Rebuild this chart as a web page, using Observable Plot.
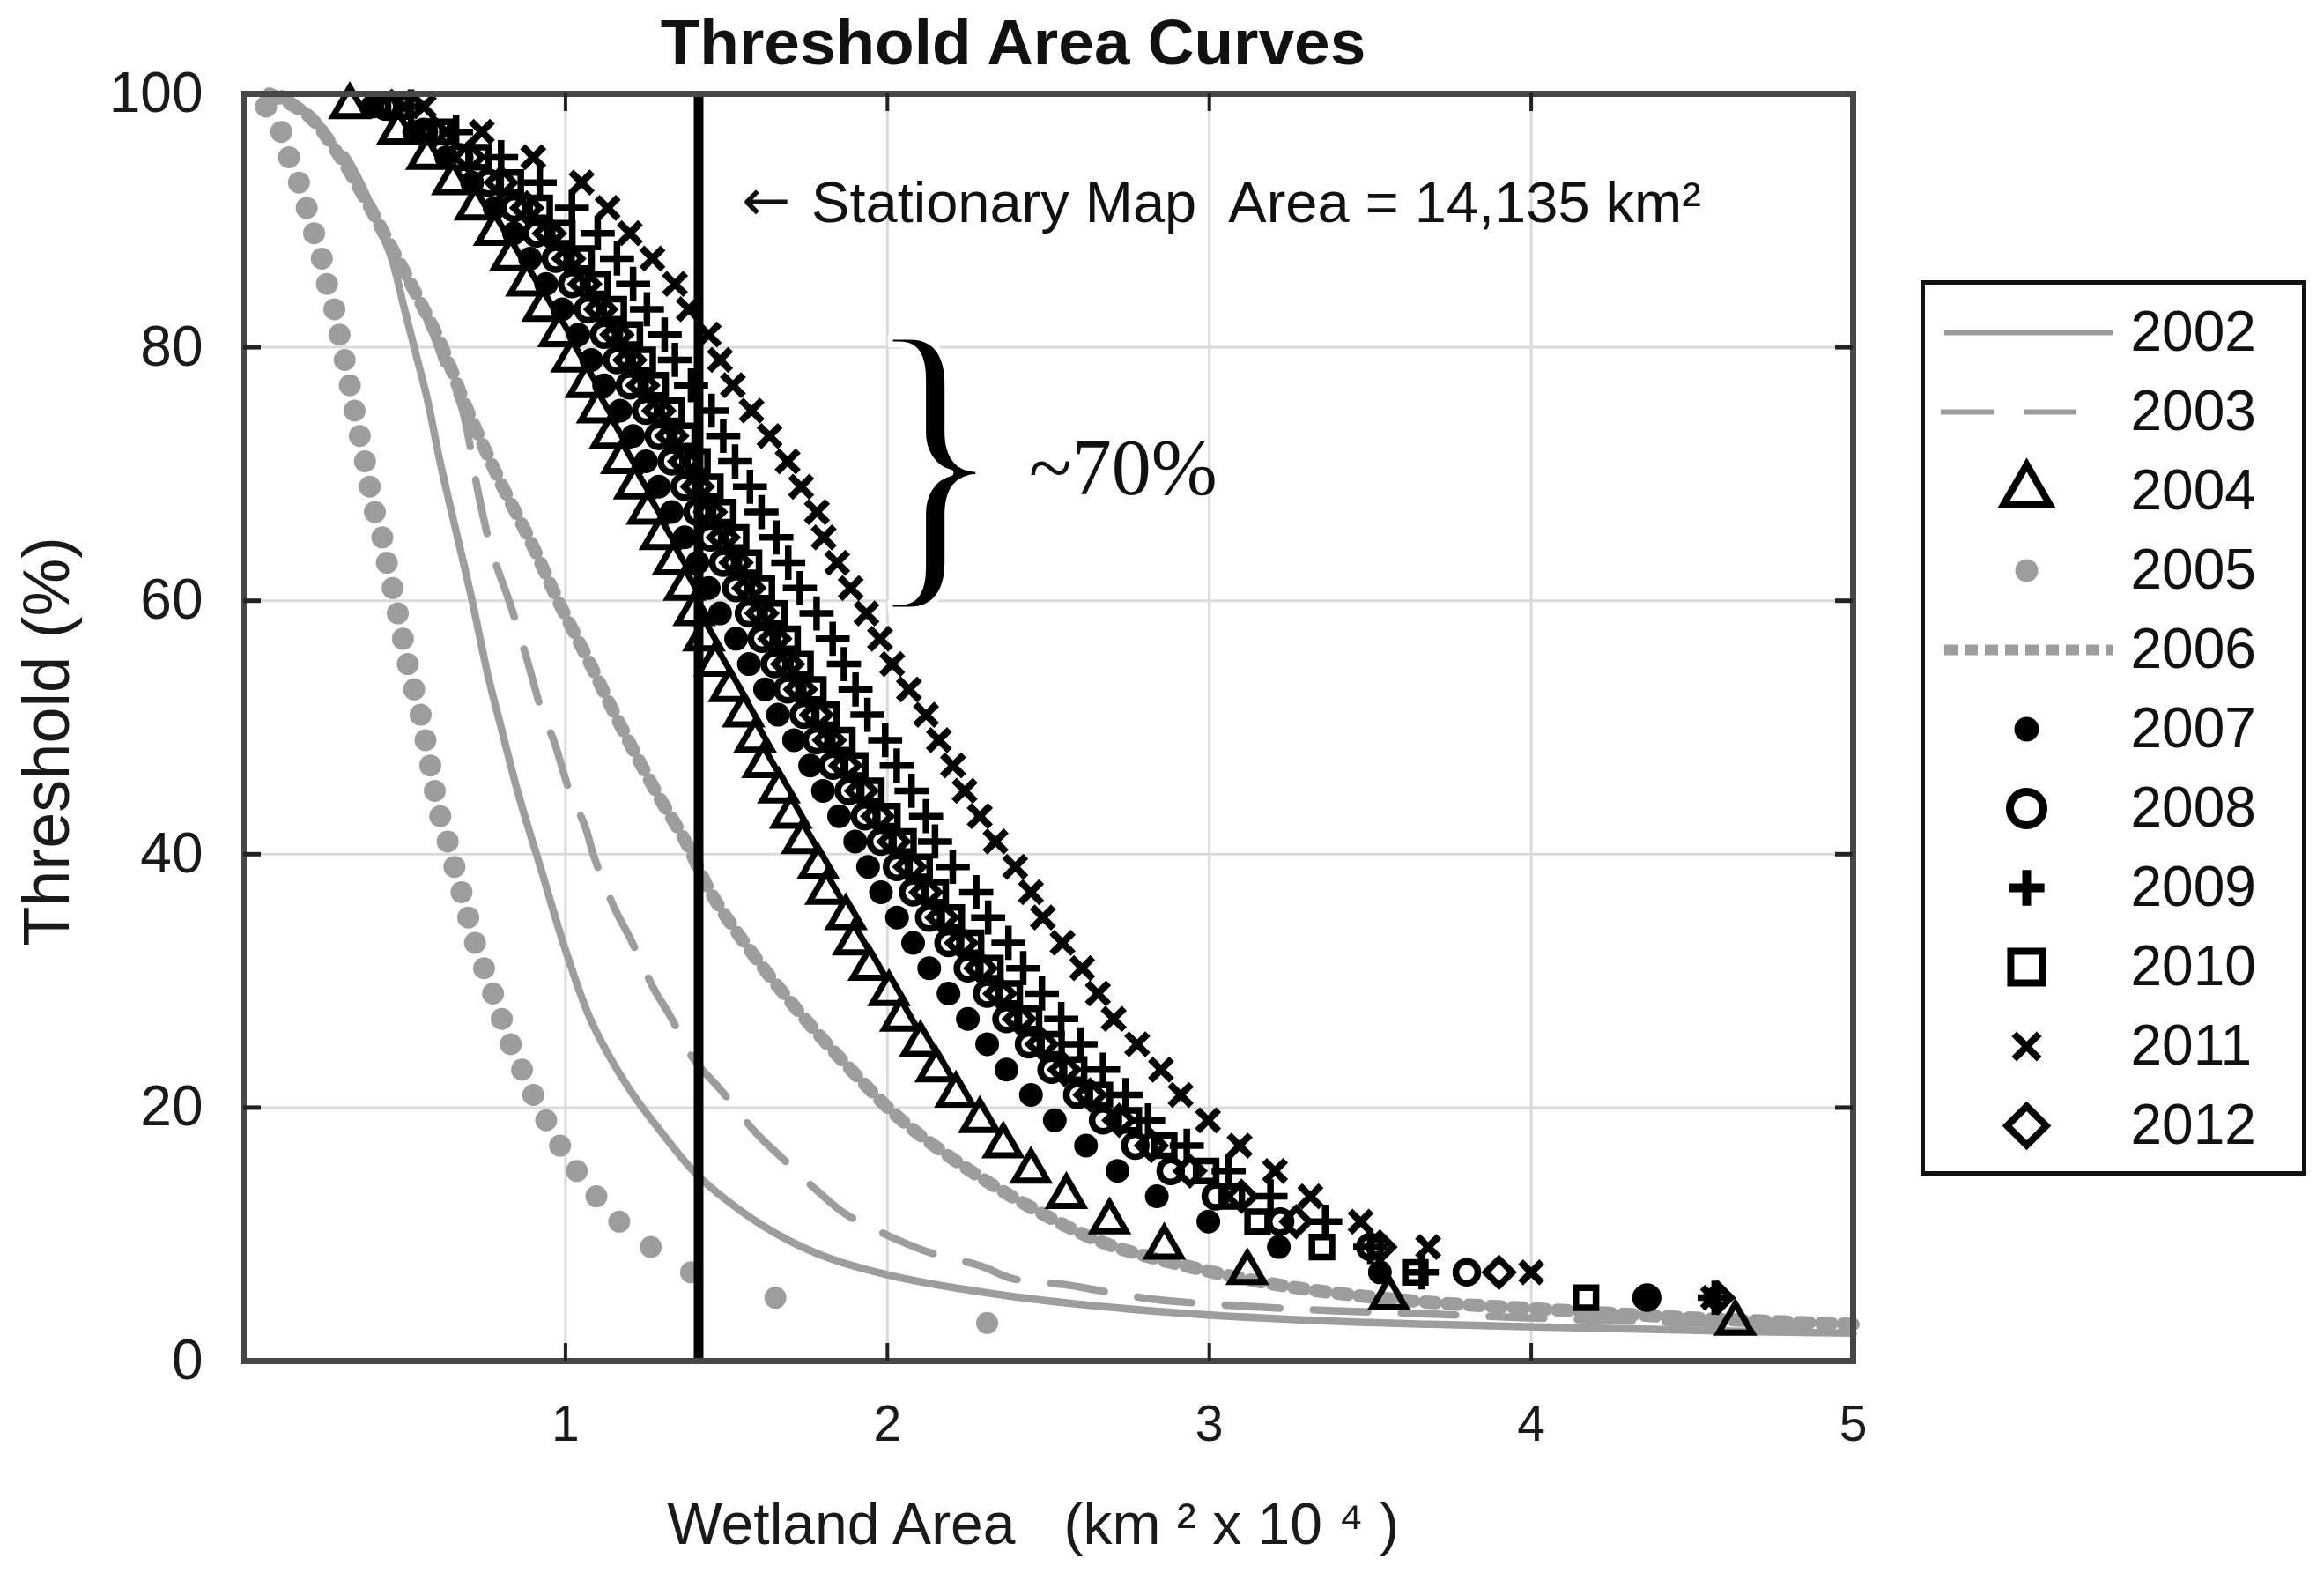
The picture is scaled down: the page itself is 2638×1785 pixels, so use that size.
<!DOCTYPE html>
<html>
<head>
<meta charset="utf-8">
<script src="https://cdn.jsdelivr.net/npm/d3@7"></script>
<script src="https://cdn.jsdelivr.net/npm/@observablehq/plot@0.6"></script>
<style>
html, body { margin: 0; padding: 0; background: #fff; }
#wrap { position: relative; width: 2638px; height: 1785px; overflow: hidden; background: #fff; }
#legend { position: absolute; left: 2180px; top: 318px; width: 438px; height: 1016px; border: 5px solid #111; box-sizing: border-box; background: #fff; }
#legend svg, #wrap > svg { display: block; }
</style>
</head>
<body>
<div id="wrap"><div id="legend"></div></div>
<script>
// ---------------- data ----------------
const years = ["2002","2003","2004","2005","2006","2007","2008","2009","2010","2011","2012"];

// threshold levels (%) at which the marker series are sampled
const thresholds = [99,97,95,93,91,89,87,85,83,81,79,77,75,73,71,69,67,65,63,61,59,57,55,53,51,49,47,45,43,41,39,37,35,33,31,29,27,25,23,21,19,17,15,13,11,9,7,5,3];

// wetland area (km^2 x 10^4) for each threshold level
const area2004 = [0.33,0.48,0.57,0.65,0.72,0.78,0.83,0.88,0.93,0.98,
                  1.02,1.065,1.10,1.14,1.175,1.215,1.255,1.295,1.335,1.37,
                  1.40,1.43,1.465,1.51,1.553,1.589,1.614,1.663,1.70,1.736,
                  1.785,1.81,1.871,1.895,1.944,2.005,2.042,2.103,2.152,2.213,
                  2.287,2.36,2.446,2.556,2.69,2.86,3.118,3.558,4.634];
const area2005 = [0.07,0.117,0.141,0.172,0.196,0.219,0.243,0.259,0.282,0.298,
                  0.314,0.330,0.345,0.361,0.377,0.392,0.408,0.431,0.445,0.463,
                  0.479,0.495,0.51,0.53,0.55,0.565,0.58,0.594,0.611,0.634,
                  0.655,0.677,0.698,0.719,0.747,0.775,0.802,0.830,0.865,0.900,
                  0.940,0.983,1.035,1.096,1.167,1.265,1.390,1.652,2.31];
const area2007 = [0.40,0.53,0.63,0.71,0.78,0.84,0.89,0.94,0.99,1.04,
                  1.08,1.12,1.17,1.21,1.25,1.29,1.33,1.37,1.41,1.445,
                  1.48,1.53,1.57,1.62,1.66,1.71,1.76,1.80,1.85,1.90,
                  1.94,1.98,2.03,2.08,2.13,2.19,2.25,2.31,2.37,2.446,
                  2.52,2.617,2.715,2.837,2.997,3.216,3.53,4.35,null];
const area2008 = [0.44,0.56,0.67,0.76,0.84,0.91,0.97,1.02,1.07,1.12,
                  1.16,1.20,1.25,1.29,1.33,1.37,1.41,1.45,1.49,1.53,
                  1.57,1.61,1.65,1.69,1.74,1.78,1.83,1.88,1.93,1.98,
                  2.03,2.08,2.13,2.19,2.25,2.31,2.37,2.44,2.51,2.59,
                  2.67,2.77,2.88,3.02,3.22,3.50,3.80,4.36,null];
const area2009 = [0.52,0.66,0.80,0.92,1.02,1.10,1.16,1.21,1.253,1.308,
                  1.34,1.39,1.454,1.49,1.527,1.573,1.609,1.655,1.692,1.728,
                  1.78,1.83,1.865,1.901,1.938,1.993,2.029,2.075,2.12,2.148,
                  2.203,2.276,2.313,2.376,2.422,2.48,2.54,2.60,2.67,2.74,
                  2.81,2.93,3.06,3.19,3.36,3.50,3.66,4.57,null];
const area2010 = [0.48,0.61,0.73,0.83,0.92,0.99,1.05,1.10,1.15,1.20,
                  1.24,1.28,1.33,1.37,1.41,1.45,1.49,1.53,1.57,1.61,
                  1.65,1.69,1.73,1.77,1.81,1.86,1.90,1.95,2.00,2.05,
                  2.10,2.15,2.20,2.26,2.32,2.38,2.44,2.51,2.58,2.66,
                  2.75,2.86,2.99,3.07,3.15,3.35,3.64,4.17,null];
const area2011 = [0.56,0.74,0.90,1.05,1.131,1.20,1.27,1.34,1.383,1.445,
                  1.48,1.52,1.578,1.634,1.69,1.732,1.781,1.802,1.844,1.886,
                  1.935,1.977,2.015,2.067,2.12,2.16,2.204,2.24,2.287,2.336,
                  2.397,2.446,2.483,2.544,2.605,2.654,2.703,2.776,2.85,2.911,
                  2.996,3.094,3.204,3.314,3.47,3.68,4.0,4.565,null];
const area2012 = [0.46,0.59,0.70,0.80,0.88,0.95,1.01,1.06,1.11,1.16,
                  1.20,1.24,1.29,1.33,1.37,1.41,1.45,1.49,1.53,1.57,
                  1.61,1.65,1.69,1.73,1.78,1.82,1.87,1.92,1.97,2.02,
                  2.07,2.12,2.17,2.23,2.29,2.35,2.41,2.48,2.55,2.63,
                  2.72,2.82,2.94,3.10,3.27,3.53,3.90,4.58,null];

// continuous curves (area, threshold)
const line2002Area = [0.12,0.20,0.28,0.36,0.42,0.46,0.50,0.53,0.57,0.61,0.66,0.71,0.76,0.80,0.853,0.923,1.003,1.084,1.20,1.303,1.401,1.50,1.651,1.81,2.018,2.36,2.80,3.24,3.69,4.37,4.74,5.0];
const line2002Thr  = [100,98.5,96,93,89.5,87,83,80,76,71,65.5,60,54,50,44.8,38.9,32.2,26.6,21.4,17.9,14.9,12.7,10.1,8.2,6.7,5.2,4.0,3.3,2.9,2.5,2.3,2.2];
const line2003Area = [0.12,0.22,0.32,0.40,0.46,0.50,0.58,0.628,0.676,0.70,0.726,0.77,0.83,0.88,0.93,0.963,1.015,1.061,1.09,1.153,1.20,1.274,1.326,1.396,1.482,1.592,1.661,1.788,1.87,2.02,2.127,2.29,2.39,2.56,2.65,2.82,3.0,3.36,3.6,4.0,4.5,5.0];
const line2003Thr  = [100,98,95,91,87.5,85.7,81.6,78.3,75.4,72.7,68.9,64,59.6,55.4,51,49,44.8,42.2,39.7,35.7,33.4,29.4,27.2,23.9,21.4,18.0,16.3,13.3,11.6,9.7,8.6,7.5,6.5,6.0,5.6,4.9,4.5,4.0,3.8,3.4,3.0,2.7];
const line2006Area = [0.08,0.20,0.30,0.38,0.44,0.53,0.614,0.698,0.795,0.893,0.977,1.073,1.172,1.284,1.373,1.455,1.597,1.744,1.89,2.04,2.235,2.455,2.675,2.945,3.24,3.607,4.096,4.58,5.0];
const line2006Thr  = [100,98.3,95,91.6,88.8,84.5,80.2,74.9,69.5,64.6,60,55.2,50.1,44.8,41,36.8,31.6,27,22.9,19.1,15.4,12,9.3,7.4,5.9,4.8,4.0,3.3,2.9];

// axis ticks
const xTickLabels = [1,2,3,4,5];
const yTickLabels = [0,20,40,60,80,100];
const xGrid = [1,2,3,4];
const yGrid = [20,40,60,80];

// annotations
const stationaryArea = [1.4135];
const annotArrow = [{x: 1.548, y: 91.5, text: "\u2190"}];
const annotStationary = [{x: 1.764, y: 91.3, text: "Stationary Map\u00a0\u00a0Area = 14,135 km\u00b2"}];
const annotBrace = [{x: 1.926, y: 71.1, text: "}"}];
const annotPct = [{x: 2.44, y: 70.4, text: "~70%"}];
const titleText = ["Threshold Area Curves"];
const xLabel = ["Wetland Area\u00a0\u00a0\u00a0(km\u00a0\u00b2\u00a0x\u00a010\u00a0\u2074\u00a0)"];
const yLabel = ["Threshold (%)"];

// ---------------- build ----------------
const gray = "#9d9d9d";
const markerRows = (areas) => thresholds.map((t, i) => ({area: areas[i], thr: t})).filter(d => d.area != null);
const lineRows = (areas, thrs) => areas.map((a, i) => ({area: a, thr: thrs[i]}));

const markerSpec = [
  {rows: markerRows(area2004), symbol: "triangle2", r: 18, fill: "none", stroke: "#000", sw: 7},
  {rows: markerRows(area2007), symbol: "circle", r: 13.5, fill: "#000", stroke: "none", sw: 0},
  {rows: markerRows(area2008), symbol: "circle", r: 12.5, fill: "none", stroke: "#000", sw: 7.5},
  {rows: markerRows(area2009), symbol: "plus", r: 12.5, fill: "none", stroke: "#000", sw: 7.5},
  {rows: markerRows(area2010), symbol: "square2", r: 14.5, fill: "none", stroke: "#000", sw: 7.5},
  {rows: markerRows(area2011), symbol: "times", r: 11, fill: "none", stroke: "#000", sw: 8},
  {rows: markerRows(area2012), symbol: "diamond2", r: 13.5, fill: "none", stroke: "#000", sw: 7.5}
];

const W = 2638, H = 1785;
const mL = 276, mR = W - 2103, mT = 106, mB = H - 1544;
const fw = W - mL - mR, fh = H - mT - mB;
const sans = "'Liberation Sans', Arial, Helvetica, sans-serif";
const serif = "'Liberation Serif', 'Times New Roman', serif";

const chart = Plot.plot({
  width: W, height: H,
  marginLeft: mL, marginRight: mR, marginTop: mT, marginBottom: mB,
  x: {domain: [0, 5]},
  y: {domain: [0, 100]},
  style: {fontFamily: sans, background: "transparent", color: "#111", overflow: "visible"},
  marks: [
    Plot.ruleX(xGrid, {x: d => d, stroke: "#dadada", strokeWidth: 3}),
    Plot.ruleY(yGrid, {y: d => d, stroke: "#dadada", strokeWidth: 3}),
    Plot.line(lineRows(line2006Area, line2006Thr), {x: "area", y: "thr", stroke: gray, strokeWidth: 15, strokeDasharray: "12 13", curve: "catmull-rom"}),
    Plot.line(lineRows(line2003Area, line2003Thr), {x: "area", y: "thr", stroke: gray, strokeWidth: 8.5, strokeDasharray: "62 38", curve: "catmull-rom"}),
    Plot.line(lineRows(line2002Area, line2002Thr), {x: "area", y: "thr", stroke: gray, strokeWidth: 8.5, curve: "catmull-rom"}),
    Plot.dot(markerRows(area2005), {x: "area", y: "thr", r: 12.5, fill: gray, stroke: "none"}),
    Plot.ruleX(stationaryArea, {x: d => d, stroke: "#000", strokeWidth: 11}),
    ...markerSpec.map(s => Plot.dot(s.rows, {x: "area", y: "thr", symbol: s.symbol, r: s.r, fill: s.fill, stroke: s.stroke, strokeWidth: s.sw})),
    Plot.frame({stroke: "#474747", strokeWidth: 7}),
    // inward ticks on all four sides
    Plot.ruleX(xGrid, {x: d => d, insetTop: fh - 20, stroke: "#222", strokeWidth: 4}),
    Plot.ruleX(xGrid, {x: d => d, insetBottom: fh - 20, stroke: "#222", strokeWidth: 4}),
    Plot.ruleY(yGrid, {y: d => d, insetRight: fw - 20, stroke: "#222", strokeWidth: 5}),
    Plot.ruleY(yGrid, {y: d => d, insetLeft: fw - 20, stroke: "#222", strokeWidth: 5}),
    Plot.axisX(xTickLabels, {tickSize: 0, tickPadding: 50, fontSize: 57, label: null, fill: "#1a1a1a", tickFormat: d => String(d)}),
    Plot.axisY(yTickLabels, {tickSize: 0, tickPadding: 46, fontSize: 64, label: null, fill: "#1a1a1a", tickFormat: d => String(d)}),
    Plot.text(annotArrow, {x: "x", y: "y", text: "text", textAnchor: "start", fontFamily: "'DejaVu Sans', sans-serif", fontSize: 66, fill: "#111"}),
    Plot.text(annotStationary, {x: "x", y: "y", text: "text", textAnchor: "start", fontSize: 65, fill: "#111"}),
    Plot.text(annotBrace, {x: "x", y: "y", text: "text", textAnchor: "start", fontFamily: serif, fontSize: 334, fill: "#000", stroke: "#fff", strokeWidth: 6, paintOrder: "normal"}),
    Plot.text(annotPct, {x: "x", y: "y", text: "text", textAnchor: "start", fontFamily: serif, fontSize: 90, fill: "#111"}),
    Plot.text(titleText, {text: d => d, frameAnchor: "top", lineAnchor: "middle", dy: -57, dx: -40, fontWeight: "bold", fontSize: 73, fill: "#111"}),
    Plot.text(xLabel, {text: d => d, frameAnchor: "bottom", lineAnchor: "middle", dy: 186, dx: 757 - (mL + fw / 2), textAnchor: "start", fontSize: 66, fill: "#1a1a1a"}),
    Plot.text(yLabel, {text: d => d, frameAnchor: "left", lineAnchor: "middle", textAnchor: "middle", rotate: -90, dx: -222, dy: 16, fontSize: 74, fill: "#1a1a1a"})
  ]
});

const wrap = document.getElementById("wrap");
wrap.insertBefore(chart, wrap.firstChild);

// stretch the brace glyph vertically about its anchor point
const braceK = 1.12;
const braceEl = Array.from(chart.querySelectorAll("text")).find(t => t.textContent === "}");
if (braceEl) {
  const tr = braceEl.getAttribute("transform") || "";
  const m = tr.match(/translate\(\s*([-\d.e]+)[ ,]+([-\d.e]+)\s*\)/);
  if (m) {
    braceEl.setAttribute("transform", `translate(${m[1]},${m[2]}) scale(1,${braceK})`);
  } else {
    const py = chart.scale("y").apply(annotBrace[0].y);
    braceEl.setAttribute("transform", `translate(0,${py}) scale(1,${braceK}) translate(0,${-py})`);
  }
}

// ---------------- legend ----------------
const LW = 428, LH = 1006;
const legend = Plot.plot({
  width: LW, height: LH,
  marginLeft: 0, marginRight: 0, marginTop: 52, marginBottom: 51,
  x: {domain: [0, 1], axis: null},
  y: {type: "point", domain: years, padding: 0, axis: null},
  style: {fontFamily: sans, background: "#fff", color: "#111"},
  marks: [
    Plot.ruleY(["2002"], {y: d => d, insetLeft: 22, insetRight: LW - 213, stroke: gray, strokeWidth: 6}),
    Plot.ruleY(["2003"], {y: d => d, insetLeft: 18, insetRight: LW - 175, stroke: gray, strokeWidth: 6, strokeDasharray: "60 34"}),
    Plot.ruleY(["2006"], {y: d => d, insetLeft: 22, insetRight: LW - 213, stroke: gray, strokeWidth: 12, strokeDasharray: "15 8"}),
    Plot.dot(["2004"], {y: d => d, frameAnchor: "left", dx: 115, symbol: "triangle2", r: 25, fill: "none", stroke: "#000", strokeWidth: 8}),
    Plot.dot(["2005"], {y: d => d, frameAnchor: "left", dx: 115, symbol: "circle", r: 13, fill: gray, stroke: "none"}),
    Plot.dot(["2007"], {y: d => d, frameAnchor: "left", dx: 115, symbol: "circle", r: 14, fill: "#000", stroke: "none"}),
    Plot.dot(["2008"], {y: d => d, frameAnchor: "left", dx: 115, symbol: "circle", r: 19, fill: "none", stroke: "#000", strokeWidth: 9}),
    Plot.dot(["2009"], {y: d => d, frameAnchor: "left", dx: 115, symbol: "plus", r: 13, fill: "none", stroke: "#000", strokeWidth: 10}),
    Plot.dot(["2010"], {y: d => d, frameAnchor: "left", dx: 115, symbol: "square2", r: 23, fill: "none", stroke: "#000", strokeWidth: 8}),
    Plot.dot(["2011"], {y: d => d, frameAnchor: "left", dx: 115, symbol: "times", r: 13, fill: "none", stroke: "#000", strokeWidth: 8}),
    Plot.dot(["2012"], {y: d => d, frameAnchor: "left", dx: 115, symbol: "diamond2", r: 20, fill: "none", stroke: "#000", strokeWidth: 8}),
    Plot.text(years, {y: d => d, text: d => d, frameAnchor: "left", dx: 233, textAnchor: "start", fontSize: 64, fill: "#111"})
  ]
});
document.getElementById("legend").appendChild(legend);
</script>
</body>
</html>
